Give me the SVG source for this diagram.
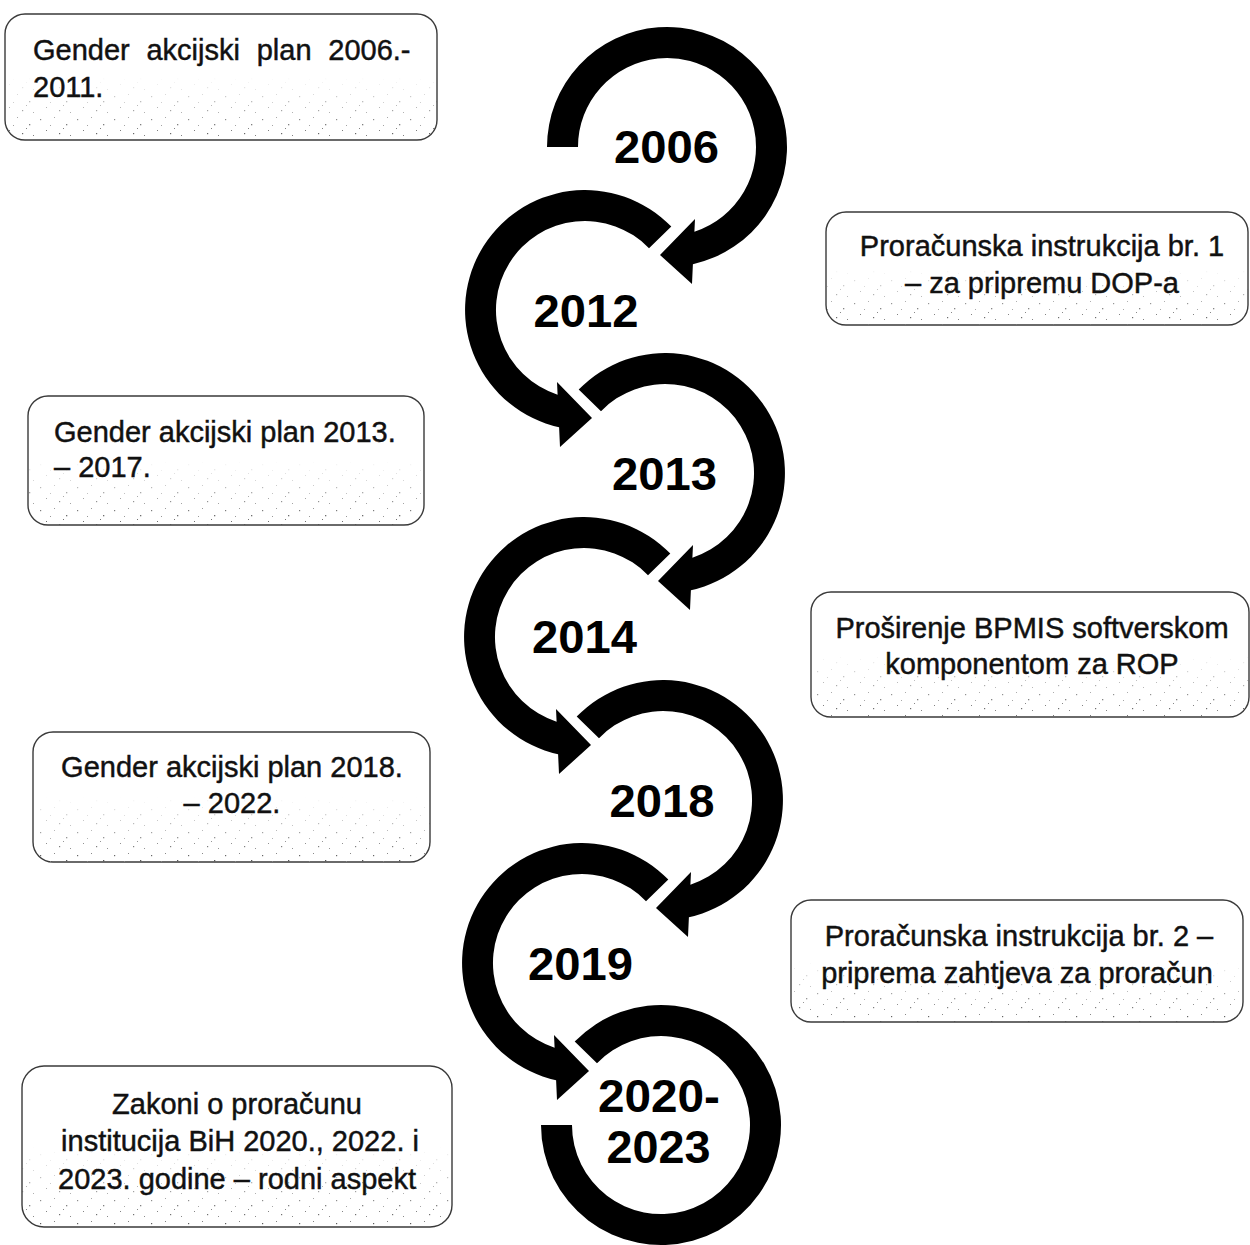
<svg xmlns="http://www.w3.org/2000/svg" width="1250" height="1245" viewBox="0 0 1250 1245">
  <style>
    .box { fill: #ffffff; stroke: #3a3a3a; stroke-width: 1.4; }
    .noise { fill: url(#speck); }
    .t { font-family: "Liberation Sans", Arial, sans-serif; font-size: 29px; fill: #111111; stroke: #111111; stroke-width: 0.45; }
    .c { text-anchor: middle; }
    .yr { font-family: "Liberation Sans", Arial, sans-serif; font-size: 46px; font-weight: bold; fill: #000000; text-anchor: middle; }
    .arc { fill: #000000; }
  </style>
  <defs>
    <pattern id="speck" width="37" height="23" patternUnits="userSpaceOnUse">
      <rect x="3" y="4" width="1.2" height="1.2" fill="#555"/>
      <rect x="17" y="2" width="1" height="1" fill="#777"/>
      <rect x="29" y="9" width="1.3" height="1.3" fill="#555"/>
      <rect x="9" y="15" width="1" height="1" fill="#666"/>
      <rect x="22" y="18" width="1.2" height="1.2" fill="#555"/>
      <rect x="33" y="20" width="1" height="1" fill="#777"/>
      <rect x="13" y="10" width="1" height="1" fill="#888"/>
      <rect x="26" y="13" width="1" height="1" fill="#666"/>
    </pattern>
    <linearGradient id="fadeGrad" x1="0" y1="0" x2="0" y2="1">
      <stop offset="0" stop-color="#000"/>
      <stop offset="0.5" stop-color="#000"/>
      <stop offset="1" stop-color="#fff"/>
    </linearGradient>
    <mask id="fade" maskContentUnits="objectBoundingBox">
      <rect x="0" y="0" width="1" height="1" fill="url(#fadeGrad)"/>
    </mask>
  </defs>

  <rect x="0" y="0" width="1250" height="1245" fill="#ffffff"/>

  <!-- circular arrow connectors -->
  <g id="connectors">
    <path class="arc" d="M547 147 A120 120 0 1 1 692.9 264.2 L692 284 L660 255 L695 219 L694.4 231.7 A89 89 0 1 0 578 147 Z"/>
    <path class="arc" d="M671.3 226.6 A120 120 0 1 0 559.1 427.2 L560 447 L592 418 L557 382 L557.6 394.7 A89 89 0 1 1 649 248.2 Z"/>
    <path class="arc" d="M578.7 389.6 A120 120 0 1 1 690.9 590.2 L690 610 L658 581 L693 545 L692.4 557.7 A89 89 0 1 0 601 411.2 Z"/>
    <path class="arc" d="M670.3 553.6 A120 120 0 1 0 558.1 754.2 L559 774 L591 745 L556 709 L556.6 721.7 A89 89 0 1 1 648 575.2 Z"/>
    <path class="arc" d="M576.7 716.6 A120 120 0 1 1 688.9 917.2 L688 937 L656 908 L691 872 L690.4 884.7 A89 89 0 1 0 599 738.2 Z"/>
    <path class="arc" d="M668.3 879.6 A120 120 0 1 0 556.1 1080.2 L557 1100 L589 1071 L554 1035 L554.6 1047.7 A89 89 0 1 1 646 901.2 Z"/>
    <path class="arc" d="M574.7 1041.6 A120 120 0 1 1 541 1125 L572 1125 A89 89 0 1 0 597 1063.2 Z"/>
  </g>

  <!-- year nodes -->
  <g id="y2006"><text class="yr" x="666.5" y="163" textLength="105" lengthAdjust="spacingAndGlyphs">2006</text></g>
  <g id="y2012"><text class="yr" x="586" y="327" textLength="105" lengthAdjust="spacingAndGlyphs">2012</text></g>
  <g id="y2013"><text class="yr" x="664.5" y="490" textLength="105" lengthAdjust="spacingAndGlyphs">2013</text></g>
  <g id="y2014"><text class="yr" x="584.5" y="653" textLength="105" lengthAdjust="spacingAndGlyphs">2014</text></g>
  <g id="y2018"><text class="yr" x="662" y="817" textLength="105" lengthAdjust="spacingAndGlyphs">2018</text></g>
  <g id="y2019"><text class="yr" x="580.5" y="980" textLength="105" lengthAdjust="spacingAndGlyphs">2019</text></g>
  <g id="y2020-2023">
    <text class="yr" x="659" y="1112" textLength="122" lengthAdjust="spacingAndGlyphs">2020-</text>
    <text class="yr" x="658.5" y="1163" textLength="104" lengthAdjust="spacingAndGlyphs">2023</text>
  </g>

  <!-- text boxes -->
  <g id="box-gap-2006">
    <rect class="box" x="5" y="14" width="432" height="126" rx="20"/>
    <rect class="noise" x="5" y="14" width="432" height="126" rx="20" mask="url(#fade)"/>
    <text class="t" x="33" y="60" word-spacing="8.7">Gender akcijski plan 2006.-</text>
    <text class="t" x="33" y="97">2011.</text>
  </g>

  <g id="box-pi-1">
    <rect class="box" x="826" y="212" width="422" height="113" rx="20"/>
    <rect class="noise" x="826" y="212" width="422" height="113" rx="20" mask="url(#fade)"/>
    <text class="t c" x="1042" y="256">Proračunska instrukcija br. 1</text>
    <text class="t c" x="1042" y="293">– za pripremu DOP-a</text>
  </g>

  <g id="box-gap-2013">
    <rect class="box" x="28" y="396" width="396" height="129" rx="20"/>
    <rect class="noise" x="28" y="396" width="396" height="129" rx="20" mask="url(#fade)"/>
    <text class="t" x="54" y="442">Gender akcijski plan 2013.</text>
    <text class="t" x="54" y="477">– 2017.</text>
  </g>

  <g id="box-bpmis">
    <rect class="box" x="811" y="592" width="438" height="125" rx="20"/>
    <rect class="noise" x="811" y="592" width="438" height="125" rx="20" mask="url(#fade)"/>
    <text class="t c" x="1032" y="638">Proširenje BPMIS softverskom</text>
    <text class="t c" x="1032" y="674">komponentom za ROP</text>
  </g>

  <g id="box-gap-2018">
    <rect class="box" x="33" y="732" width="397" height="130" rx="20"/>
    <rect class="noise" x="33" y="732" width="397" height="130" rx="20" mask="url(#fade)"/>
    <text class="t c" x="232" y="777">Gender akcijski plan 2018.</text>
    <text class="t c" x="232" y="813">– 2022.</text>
  </g>

  <g id="box-pi-2">
    <rect class="box" x="791" y="900" width="452" height="122" rx="20"/>
    <rect class="noise" x="791" y="900" width="452" height="122" rx="20" mask="url(#fade)"/>
    <text class="t c" x="1019" y="946">Proračunska instrukcija br. 2 –</text>
    <text class="t c" x="1017" y="983">priprema zahtjeva za proračun</text>
  </g>

  <g id="box-zakoni">
    <rect class="box" x="22" y="1066" width="430" height="161" rx="22"/>
    <rect class="noise" x="22" y="1066" width="430" height="161" rx="22" mask="url(#fade)"/>
    <text class="t c" x="237" y="1114">Zakoni o proračunu</text>
    <text class="t c" x="240" y="1151">institucija BiH 2020., 2022. i</text>
    <text class="t c" x="237" y="1189">2023. godine – rodni aspekt</text>
  </g>
</svg>
